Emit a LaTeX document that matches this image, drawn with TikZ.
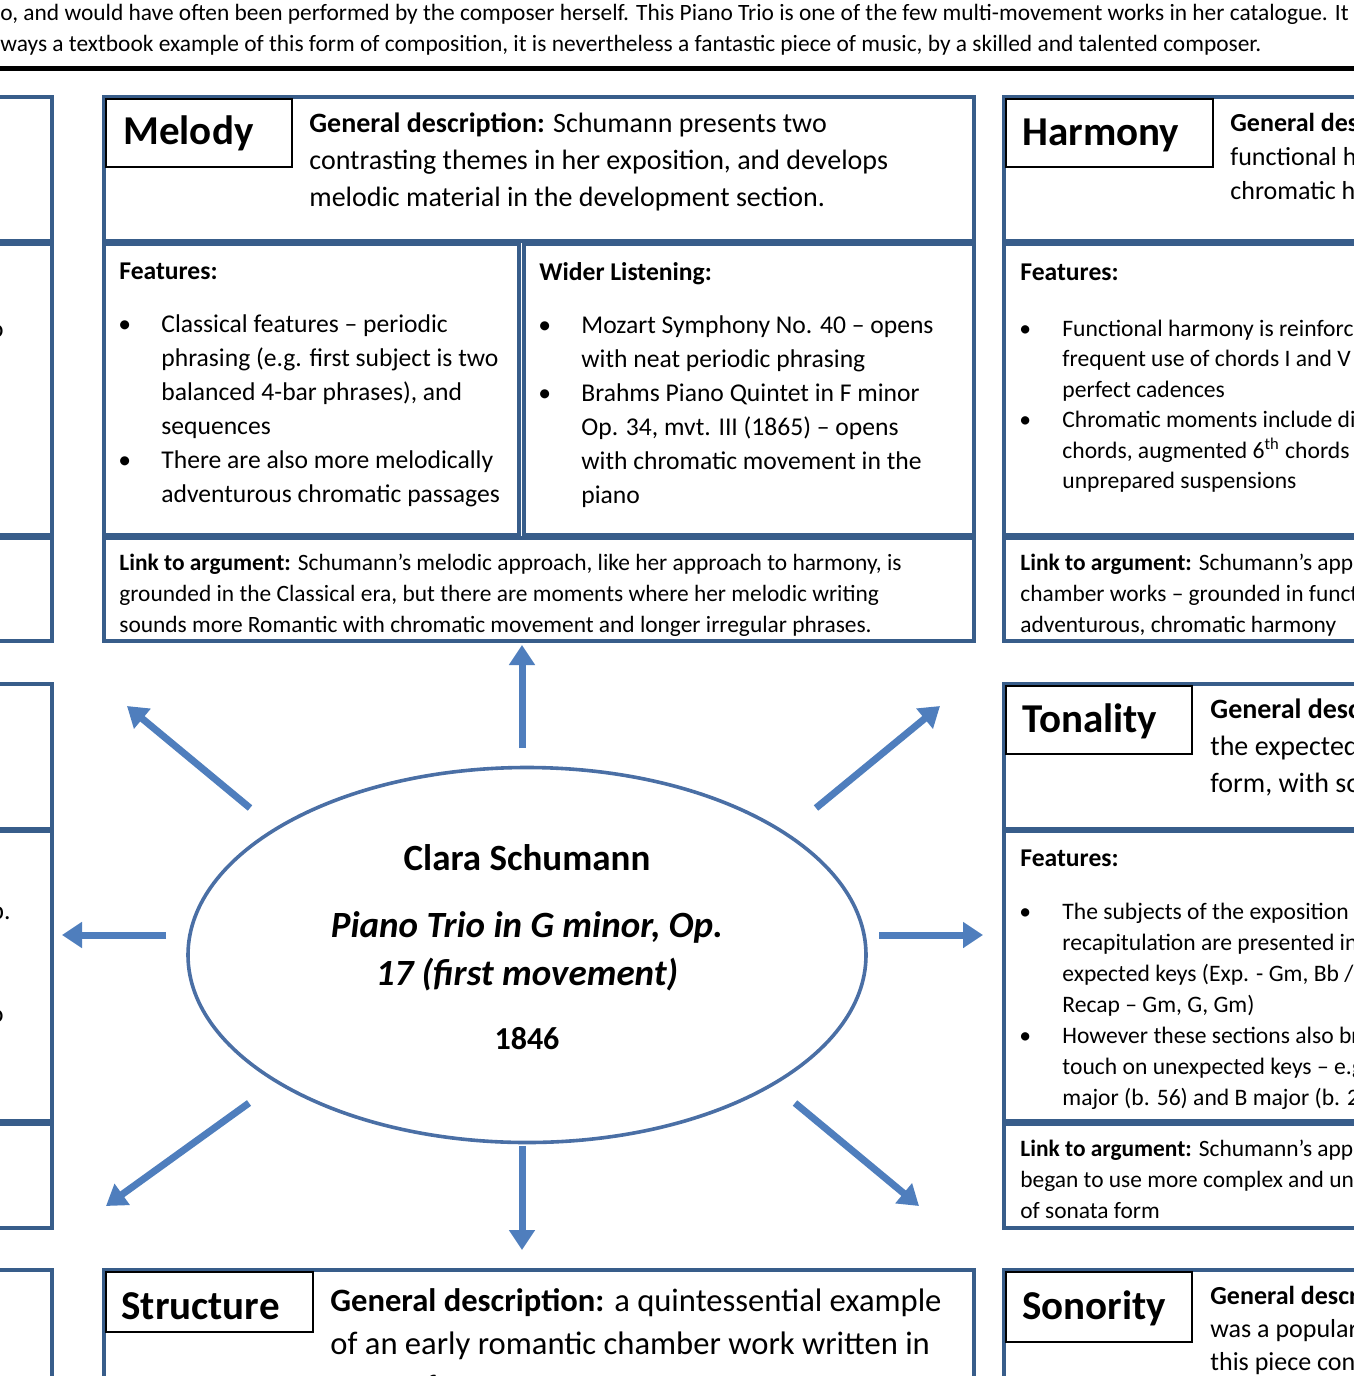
\documentclass[tikz,border=0pt]{standalone}
\usepackage{fontspec}
\setmainfont{Carlito}
\usetikzlibrary{arrows.meta,fit,shapes.geometric}
\definecolor{boxblue}{HTML}{385D8A}
\definecolor{spokeblue}{HTML}{4F7EBD}
\definecolor{hubblue}{HTML}{4A6FA5}
\newcommand\bul{\llap{\makebox[21.5pt][l]{•}}}
\newcommand\para[1]{\begin{tabular}[t]{@{}l@{}}#1\end{tabular}}

\begin{document}
\begin{tikzpicture}[x=0.5pt,y=-0.5pt,
  panel/.style={draw=boxblue, line width=1.8pt, inner sep=0pt},
  titlebox/.style={draw=black, line width=0.6pt, inner sep=0pt, fill=white},
  txt/.style={anchor=base west, inner sep=0pt},
  heading/.style={txt, font=\bfseries\fontsize{20.5}{24}\selectfont},
  gendesc/.style={txt, font=\fontsize{14}{18.5}\selectfont},
  feathead/.style={txt, font=\bfseries\fontsize{12.8}{17}\selectfont},
  feat/.style={txt, font=\fontsize{12.8}{17}\selectfont},
  link/.style={txt, font=\fontsize{11.7}{15.5}\selectfont},
  spoke/.style={draw=spokeblue, line width=3.5pt, -{Triangle[width=12.5pt,length=10pt]}},
  hub/.style={ellipse, draw=hubblue, line width=1.8pt, inner sep=0pt}]
 \useasboundingbox (0,0) rectangle (1354,1376);
 \fill[white] (0,0) rectangle (1354,1376);
 \clip (0,0) rectangle (1354,1376);

 \node[link] (intro) at (0,20) {\para{o, and would have often been performed by the composer herself. This Piano Trio is one of the few multi-movement works in her catalogue. It\\ways a textbook example of this form of composition, it is nevertheless a fantastic piece of music, by a skilled and talented composer.}};
 \draw[line width=2.5pt] (0,68) -- (1354,68);

 \node[panel, fit={(-20,97) (52,241)}] (L1) {};
 \node[panel, fit={(-20,244) (52,535)}] (L2) {};
 \node[panel, fit={(-20,538) (52,641)}] (L3) {};
 \node[panel, fit={(-20,684) (52,829)}] (L4) {};
 \node[panel, fit={(-20,831) (52,1121)}] (L5) {};
 \node[panel, fit={(-20,1124) (52,1228)}] (L6) {};
 \node[panel, fit={(-20,1270) (52,1400)}] (L7) {};
 \node[feat, anchor=base east] at (4,337) {o};
 \node[feat, anchor=base east] at (11,919) {p.};
 \node[feat, anchor=base east] at (4,1022) {o};

 \node[panel, fit={(104,97) (974,241)}] (melody) {};
 \node[titlebox, fit={(106,99) (292,167)}] (melodytitle) {};
 \node[heading] at (123,144) {Melody};
 \node[gendesc] (melodydesc) at (309,132) {\para{\textbf{General description:} Schumann presents two\\contrasting themes in her exposition, and develops\\melodic material in the development section.}};
 \node[panel, fit={(104,244) (519,535)}] (melodyfeat) {};
 \node[feathead] at (119,279) {Features:};
 \node[feat] at (161,332) {\para{\bul Classical features – periodic\\phrasing (e.g. first subject is two\\balanced 4-bar phrases), and\\sequences\\\bul There are also more melodically\\adventurous chromatic passages}};
 \node[panel, fit={(524,244) (974,535)}] (wider) {};
 \node[feathead] at (539,280) {Wider Listening:};
 \node[feat] at (581,333) {\para{\bul Mozart Symphony No. 40 – opens\\with neat periodic phrasing\\\bul Brahms Piano Quintet in F minor\\Op. 34, mvt. III (1865) – opens\\with chromatic movement in the\\piano}};
 \node[panel, fit={(104,538) (974,641)}] (melodylink) {};
 \node[link] at (119,570) {\para{\textbf{Link to argument:} Schumann’s melodic approach, like her approach to harmony, is\\grounded in the Classical era, but there are moments where her melodic writing\\sounds more Romantic with chromatic movement and longer irregular phrases.}};

 \node[panel, fit={(1004,97) (1380,241)}] (harmony) {};
 \node[titlebox, fit={(1006,99) (1213,167)}] (harmonytitle) {};
 \node[heading] at (1022,145) {Harmony};
 \node[gendesc, font=\fontsize{13}{17}\selectfont] at (1230,131) {\para{\textbf{General description:}\\functional harmony\\chromatic harmony}};
 \node[panel, fit={(1004,244) (1380,535)}] (harmonyfeat) {};
 \node[feathead] at (1020,280) {Features:};
 \node[feat, font=\fontsize{11.8}{15.25}\selectfont] at (1062,336) {\para{\bul Functional harmony is reinforced by\\frequent use of chords I and V and\\perfect cadences\\\bul Chromatic moments include diminished\\chords, augmented 6\textsuperscript{th} chords and\\unprepared suspensions}};
 \node[panel, fit={(1004,538) (1380,641)}] (harmonylink) {};
 \node[link] at (1020,570) {\para{\textbf{Link to argument:} Schumann’s approach\\chamber works – grounded in functional\\adventurous, chromatic harmony}};

 \node[panel, fit={(1004,684) (1380,829)}] (tonality) {};
 \node[titlebox, fit={(1006,686) (1192,754)}] (tonalitytitle) {};
 \node[heading] at (1022,732) {Tonality};
 \node[gendesc] at (1210,718) {\para{\textbf{General description:}\\the expected\\form, with some}};
 \node[panel, fit={(1004,831) (1380,1121)}] (tonalityfeat) {};
 \node[feathead] at (1020,866) {Features:};
 \node[feat, font=\fontsize{11.8}{15.5}\selectfont] at (1062,919) {\para{\bul The subjects of the exposition and\\recapitulation are presented in\\expected keys (Exp. - Gm, Bb /\\Recap – Gm, G, Gm)\\\bul However these sections also briefly\\touch on unexpected keys – e.g.\\major (b. 56) and B major (b. 22}};
 \node[panel, fit={(1004,1124) (1380,1228)}] (tonalitylink) {};
 \node[link] at (1020,1156) {\para{\textbf{Link to argument:} Schumann’s approach\\began to use more complex and unexpected\\of sonata form}};

 \node[panel, fit={(104,1270) (974,1400)}] (structure) {};
 \node[titlebox, fit={(106,1272) (313,1332)}] (structuretitle) {};
 \node[heading] at (121,1319) {Structure};
 \node[gendesc, font=\fontsize{16.3}{21.5}\selectfont] at (330,1311) {\para{\textbf{General description:} a quintessential example\\of an early romantic chamber work written in\\sonata form}};

 \node[panel, fit={(1004,1270) (1380,1400)}] (sonority) {};
 \node[titlebox, fit={(1006,1272) (1192,1342)}] (sonoritytitle) {};
 \node[heading] at (1022,1319) {Sonority};
 \node[gendesc, font=\fontsize{13}{16.5}\selectfont] at (1210,1304) {\para{\textbf{General description:}\\was a popular\\this piece con}};

 \node[hub, minimum width=339pt, minimum height=187.5pt] (clara) at (527,955) {};
 \node[anchor=base, inner sep=0pt, font=\bfseries\fontsize{18.5}{24}\selectfont] (composer) at (527,870) {Clara Schumann};
 \node[anchor=base, inner sep=0pt, font=\bfseries\itshape\fontsize{18.5}{24}\selectfont] (work) at (527,937) {\begin{tabular}[t]{@{}c@{}}Piano Trio in G minor, Op.\\17 (first movement)\end{tabular}};
 \node[anchor=base, inner sep=0pt, font=\bfseries\fontsize{16}{20}\selectfont] (year) at (527,1049) {1846};

 \coordinate (upT) at (522,748);   \coordinate (upH) at (522,645);
 \coordinate (dnT) at (522,1146);  \coordinate (dnH) at (522,1250);
 \coordinate (lfT) at (166,935);   \coordinate (lfH) at (62,935);
 \coordinate (rtT) at (879,935);   \coordinate (rtH) at (983,935);
 \coordinate (ulT) at (250,808);   \coordinate (ulH) at (127,706);
 \coordinate (urT) at (816,808);   \coordinate (urH) at (940,706);
 \coordinate (dlT) at (249,1103);  \coordinate (dlH) at (106,1206);
 \coordinate (drT) at (795,1103);  \coordinate (drH) at (919,1206);
 \foreach \d in {up,dn,lf,rt,ul,ur,dl,dr}
  \draw[spoke] (\d T) -- (\d H);
\end{tikzpicture}
\end{document}
